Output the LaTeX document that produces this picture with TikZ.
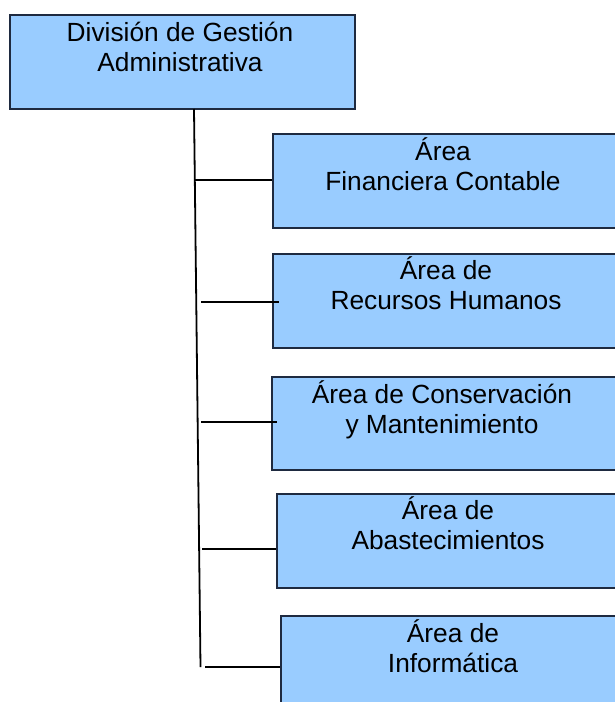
\documentclass[tikz,border=0pt]{standalone}
\usepackage{fontspec}
\setmainfont{Liberation Sans}
\usetikzlibrary{calc}
\definecolor{boxfill}{HTML}{99CCFF}
\definecolor{boxline}{RGB}{30,42,64}
\newcommand\mystrut{\rule{0pt}{26pt}}
\begin{document}
\begin{tikzpicture}[x=1pt,y=-1pt,
  box/.style={draw=boxline, fill=boxfill, line width=1.8pt, rectangle, inner sep=0pt, anchor=north west},
  lbl/.style={inner sep=0pt, anchor=north, align=center, font=\fontsize{26.3}{30}\selectfont},
  conn/.style={draw=black, line width=1.8pt}]
\useasboundingbox (0,0) rectangle (615,702);
\begin{scope}
\clip (0,0) rectangle (615,702);
% boxes
\node[box, minimum width=345pt, minimum height=94pt] (top) at (9,14) {};
\node[box, minimum width=346pt, minimum height=94pt] (b1) at (272,133) {};
\node[box, minimum width=346pt, minimum height=94pt] (b2) at (272,253) {};
\node[box, minimum width=347pt, minimum height=93pt] (b3) at (271,376) {};
\node[box, minimum width=342pt, minimum height=94pt] (b4) at (276,493) {};
\node[box, minimum width=338pt, minimum height=94pt] (b5) at (280,615) {};
% labels
\node[lbl] (ttop) at (180,15) {\mystrut División de Gestión\\Administrativa};
\node[lbl] (t1) at (443,134) {\mystrut Área\\Financiera Contable};
\node[lbl] (t2) at (446,253) {\mystrut Área de\\Recursos Humanos};
\node[lbl] (t3) at (442,377) {\mystrut Área de Conservación\\y Mantenimiento};
\node[lbl] (t4) at (448,493) {\mystrut Área de\\Abastecimientos};
\node[lbl] (t5) at (453,616) {\mystrut Área de\\Informática};
% connector coordinates
\coordinate (vtop) at (194,109);
\coordinate (vbot) at (200.5,667);
\coordinate (c1) at (194.5,180);
\coordinate (c2) at (201,302);
\coordinate (e2) at (279,302);
\coordinate (c3) at (201,422);
\coordinate (e3) at (277,422);
\coordinate (c4) at (202,549);
\coordinate (c5) at (205,667);
\draw[conn] (vtop) -- (vbot);
\draw[conn] (c1) -- (c1 -| b1.west);
\draw[conn] (c2) -- (e2);
\draw[conn] (c3) -- (e3);
\draw[conn] (c4) -- (c4 -| b4.west);
\draw[conn] (c5) -- (c5 -| b5.west);
\end{scope}
\end{tikzpicture}
\end{document}
